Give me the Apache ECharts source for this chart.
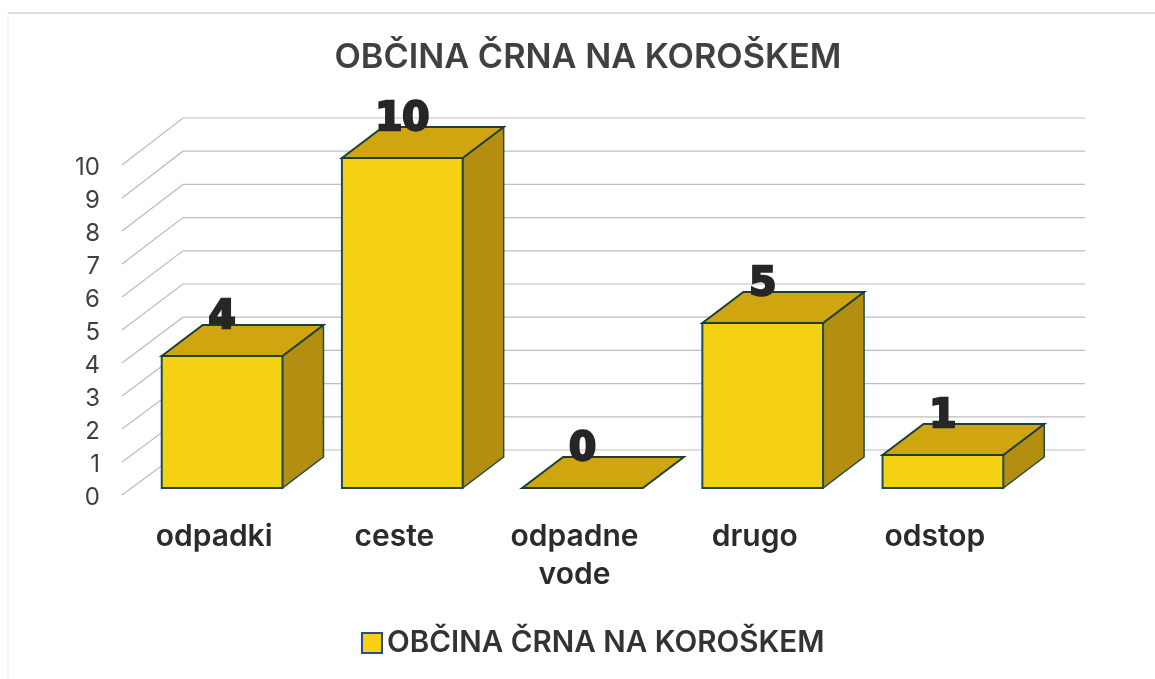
<!DOCTYPE html>
<html>
<head>
<meta charset="utf-8">
<script src="https://cdn.jsdelivr.net/npm/echarts@6/dist/echarts.min.js"></script>
<style>
  html, body { margin: 0; background: #fff; }
  #chart-container { width: 1155px; height: 679px; }
</style>
</head>
<body>
<div id="chart-container"></div>
<script>
const chartTitle = 'OBČINA ČRNA NA KOROŠKEM';
const categories = ['odpadki', 'ceste', 'odpadne\nvode', 'drugo', 'odstop'];
const values = [4, 10, 0, 5, 1];
const ticks = [0, 1, 2, 3, 4, 5, 6, 7, 8, 9, 10];

const fontName = 'Inter';
const wallDx = 60, wallDy = -44;   // depth of the 3D floor
const barShiftX = 8, barShiftY = -6;
const barDx = 41, barDy = -31;     // depth of one bar

function renderWall(params, api) {
    const p = api.coord([0, api.value(0)]);
    const left = params.coordSys.x;
    const right = left + params.coordSys.width;
    // back wall is drawn a touch taller than the front edge
    const backY = p[1] + wallDy - api.value(0) * 0.2;
    return {
        type: 'polyline',
        silent: true,
        shape: { points: [[left - 2, p[1] + 1], [left + wallDx - 1, backY], [right + wallDx, backY]] },
        style: { fill: null, stroke: '#bdbdbd', lineWidth: 1.2 }
    };
}

function renderBar(params, api) {
    const cat = api.value(0);
    const top = api.coord([cat, api.value(1)]);
    const bottom = api.coord([cat, 0]);
    const w = api.size([1, 0])[0] * 0.67;
    const x0 = top[0] - w / 2 + barShiftX, x1 = x0 + w;
    const y0 = top[1] + barShiftY, y1 = bottom[1] + barShiftY;
    const edge = '#1d4a55';
    const children = [];
    if (y1 > y0) {
        children.push({
            type: 'polygon',
            shape: { points: [[x1, y0], [x1 + barDx, y0 + barDy], [x1 + barDx, y1 + barDy], [x1, y1]] },
            style: { fill: '#b48e10', stroke: edge, lineWidth: 1.5 }
        });
        children.push({
            type: 'rect',
            shape: { x: x0, y: y0, width: w, height: y1 - y0 },
            style: { fill: '#f5d114', stroke: edge, lineWidth: 2 }
        });
    }
    children.push({
        type: 'polygon',
        shape: { points: [[x0, y0], [x0 + barDx, y0 + barDy], [x1 + barDx, y0 + barDy], [x1, y0]] },
        style: { fill: '#cfa60f', stroke: '#1d3f38', lineWidth: 2 }
    });
    children.push({
        type: 'text',
        z2: 10,
        style: {
            text: String(api.value(1)),
            x: x0 + w / 2,
            y: y0 - 38,
            align: 'center',
            verticalAlign: 'middle',
            font: 'bold 39px "DejaVu Sans"',
            fill: '#262626',
            stroke: '#262626',
            lineWidth: 2.5
        }
    });
    return { type: 'group', children: children };
}

const chart = echarts.init(document.getElementById('chart-container'), null, { renderer: 'canvas' });
chart.setOption({
    animation: false,
    backgroundColor: '#fff',
    title: {
        text: chartTitle,
        left: 583,
        top: 36,
        textAlign: 'center',
        textStyle: { fontFamily: fontName, fontSize: 34.3, fontWeight: 600, color: '#404040' }
    },
    legend: {
        left: 356,
        top: 623,
        itemWidth: 20,
        itemHeight: 20,
        itemGap: 7,
        textStyle: { fontFamily: fontName, fontSize: 29.6, fontWeight: 600, color: '#333' },
        data: [{ name: chartTitle, icon: 'rect' }]
    },
    graphic: [
        { type: 'line', silent: true, shape: { x1: 8, y1: 13, x2: 1155, y2: 13 }, style: { stroke: '#bcbcbc', lineWidth: 1 } },
        { type: 'line', silent: true, shape: { x1: 8, y1: 13, x2: 8, y2: 679 }, style: { stroke: '#efefef', lineWidth: 1 } }
    ],
    grid: { left: 124, width: 901, top: 164, height: 330 },
    xAxis: {
        type: 'category',
        data: categories,
        axisLine: { show: false },
        axisTick: { show: false },
        axisLabel: {
            margin: 24,
            fontFamily: fontName,
            fontSize: 30,
            fontWeight: 600,
            color: '#2b2b2b',
            lineHeight: 38
        }
    },
    yAxis: {
        type: 'value',
        min: 0,
        max: 10,
        interval: 1,
        axisLine: { show: false },
        axisTick: { show: false },
        splitLine: { show: false },
        // top aligned with a short line box: sits the digits just under each tick
        axisLabel: { margin: 24, fontFamily: fontName, fontSize: 24, color: '#404040', verticalAlign: 'top', lineHeight: 7 }
    },
    series: [
        {
            type: 'custom',
            name: 'wall',
            silent: true,
            z: 1,
            renderItem: renderWall,
            encode: { y: 0 },
            data: ticks.map(t => [t])
        },
        {
            type: 'custom',
            name: chartTitle,
            z: 2,
            renderItem: renderBar,
            itemStyle: { color: '#f5d114', borderColor: '#2a4a9a', borderWidth: 2 },
            encode: { x: 0, y: 1 },
            data: values.map((v, i) => [i, v])
        }
    ]
});

window.addEventListener('resize', () => {
    chart.resize();
});
</script>
</body>
</html>
